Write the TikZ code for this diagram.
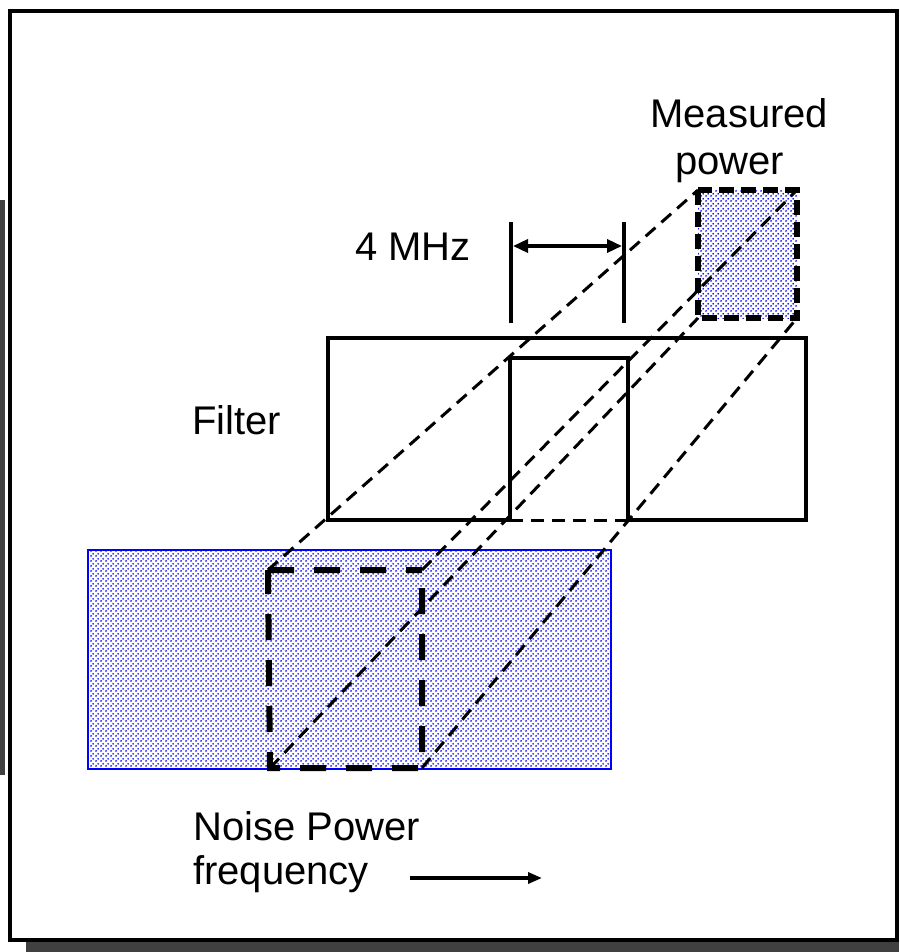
\documentclass[tikz,border=0pt]{standalone}
\usepackage{fontspec}
\setmainfont{Liberation Sans}
\usetikzlibrary{arrows.meta,patterns.meta}
\tikzdeclarepattern{name=bluedots,type=uncolored,
  bounding box={(0,0) and (5pt,5pt)},tile size={(5pt,5pt)},
  code={\fill (1.25pt,1.25pt) circle (1.15pt); \fill (3.75pt,3.75pt) circle (1.15pt);}}
\tikzset{
  lbl/.style={font=\fontsize{40}{48}\selectfont,inner sep=0pt,anchor=base west},
  solidline/.style={line width=3.6pt,line cap=rect},
  proj/.style={line width=3pt,dash pattern=on 13pt off 8pt},
  bigdash/.style={line width=6pt,dash pattern=on 26pt off 20pt},
  meddash/.style={line width=5.5pt,dash pattern=on 15pt off 7pt},
  dotfill/.style={pattern=bluedots,pattern color=blue},
}
\begin{document}
\begin{tikzpicture}[x=1pt,y=-1pt]
\useasboundingbox (0,0) rectangle (899,952);
% shadows
\fill[black!75] (26,942) rectangle (899,952);
\fill[black!75] (0,200) rectangle (5,775);
% frame
\draw[line width=3.6pt] (10,11) rectangle (897,940);
% noise spectrum
\node[draw=blue,line width=1.6pt,dotfill,minimum width=523pt,minimum height=219pt,inner sep=0pt,anchor=north west] (noise) at (87,549) {};
% measured power box
\coordinate (mTL) at (698,190);
\coordinate (mTR) at (797,190);
\coordinate (mBL) at (698,318);
\coordinate (mBR) at (797,318);
\fill[dotfill] (mTL) rectangle (mBR);
% noise dashed box corners
\coordinate (nTL) at (268,570);
\coordinate (nTR) at (422,570);
\coordinate (nBL) at (270,768);
\coordinate (nBR) at (422,768);
% filter
\coordinate (fTL) at (328,338);
\coordinate (fTR) at (806,338);
\coordinate (fBL) at (328,520);
\coordinate (fBR) at (806,520);
\coordinate (sTL) at (510,358);
\coordinate (sTR) at (628,358);
\coordinate (sBL) at (510,520);
\coordinate (sBR) at (628,520);
\draw[solidline] (sBL) -- (fBL) -- (fTL) -- (fTR) -- (fBR) -- (sBR);
\draw[solidline] (sBL) -- (sTL) -- (sTR) -- (sBR);
\draw[proj] (sBL) -- (sBR);
% projection lines
\draw[proj] (nTL) -- (mTL);
\draw[proj] (nTR) -- (mTR);
\draw[proj] (nBL) -- (mBL);
\draw[proj] (nBR) -- (mBR);
% dashed boxes
\draw[bigdash] (nTL) -- (nTR) (nTR)++(0,18) -- (nBR) -- (nBL) -- (nTL);
\draw[meddash] (mTL) rectangle (mBR);
% 4 MHz marker
\coordinate (bL1) at (511,222);
\coordinate (bL2) at (511,323);
\coordinate (bR1) at (624,222);
\coordinate (bR2) at (624,323);
\draw[line width=3.4pt] (bL1) -- (bL2);
\draw[line width=3.4pt] (bR1) -- (bR2);
\coordinate (aL) at (513,246);
\coordinate (aR) at (622,246);
\draw[line width=3.4pt,{Triangle[length=15pt,width=13pt]}-{Triangle[length=15pt,width=13pt]}] (aL) -- (aR);
% labels
\node[lbl] (mhz) at (355,260) {4 MHz};
\node[lbl] (meas) at (650,128) {Measured};
\node[lbl] (pow) at (675,175) {power};
\node[lbl] (filt) at (192,434) {Filter};
\node[lbl] (np) at (193,840) {Noise Power};
\node[lbl] (freq) at (193,884) {frequency};
\coordinate (fa1) at (410,878);
\coordinate (fa2) at (542,878);
\draw[line width=3.4pt,-{Triangle[length=14pt,width=11pt]}] (fa1) -- (fa2);
\end{tikzpicture}
\end{document}
